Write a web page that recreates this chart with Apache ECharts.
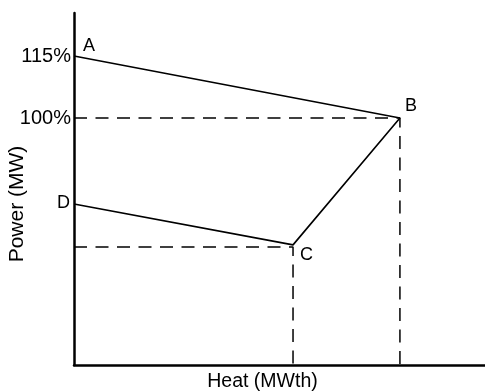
<!DOCTYPE html>
<html>
<head>
<meta charset="utf-8">
<script src="https://cdn.jsdelivr.net/npm/echarts@6/dist/echarts.min.js"></script>
<style>html,body{margin:0;padding:0;background:#fff}#c{width:485px;height:392px}</style>
</head>
<body>
<div id="c"></div>
<script>
// Points of the operating region (heat in % of B, power in %)
const pointNames = ['A', 'B', 'C', 'D'];
const heatValues = [0, 100, 67.2, 0];
const powerValues = [115, 100, 69.3, 79.2];
const yTickValues = [100, 115];
const guideB = [[0, 100], [100, 100], [100, 40.24]];
const guideC = [[0, 68.8], [67.2, 68.8], [67.2, 40.24]];

const font = 'Liberation Sans, Arial, sans-serif';
const labelPos = {
  A: {position: 'right', offset: [4, -10]},
  B: {position: 'right', offset: [0, -11.5]},
  C: {position: 'right', offset: [2, 10]},
  D: {position: 'left', offset: [1, -1]}
};
const outline = pointNames.map((n, i) => ({
  value: [heatValues[i], powerValues[i]],
  label: Object.assign({show: true, formatter: n, color: '#000', fontSize: 18, fontFamily: font}, labelPos[n])
}));

const chart = echarts.init(document.getElementById('c'));
chart.setOption({
  animation: false,
  grid: {left: 74, right: 0, top: 13, bottom: 27, containLabel: false, outerBoundsMode: 'none'},
  xAxis: {
    type: 'value', min: 0, max: 126.1,
    name: 'Heat (MWth)', nameLocation: 'middle', nameGap: 7, nameMoveOverlap: false,
    nameTextStyle: {color: '#000', fontSize: 19.5, fontFamily: font, padding: [0, 34, 0, 0]},
    axisLine: {show: true, lineStyle: {color: '#000', width: 2.5}},
    axisTick: {show: false}, axisLabel: {show: false}, splitLine: {show: false}
  },
  yAxis: {
    type: 'value', min: 40.24, max: 125.4,
    name: 'Power (MW)', nameLocation: 'middle', nameGap: 46, nameRotate: 90, nameMoveOverlap: false,
    nameTextStyle: {color: '#000', fontSize: 21, fontFamily: font, padding: [0, 30, 0, 0]},
    axisLine: {show: true, lineStyle: {color: '#000', width: 2.5}},
    axisTick: {show: false},
    axisLabel: {show: true, customValues: yTickValues, formatter: '{value}%', color: '#000', fontSize: 20, fontFamily: font, margin: 3},
    splitLine: {show: false}
  },
  series: [
    {type: 'line', data: guideB, symbol: 'none', lineStyle: {color: '#000', width: 1.5, type: [13, 8.5]}, z: 1},
    {type: 'line', data: guideC, symbol: 'none', lineStyle: {color: '#000', width: 1.5, type: [13, 8.5]}, z: 1},
    {type: 'line', data: outline, symbol: 'circle', symbolSize: 0.1, itemStyle: {color: '#000'}, lineStyle: {color: '#000', width: 1.6}, z: 2}
  ]
});
</script>
</body>
</html>
